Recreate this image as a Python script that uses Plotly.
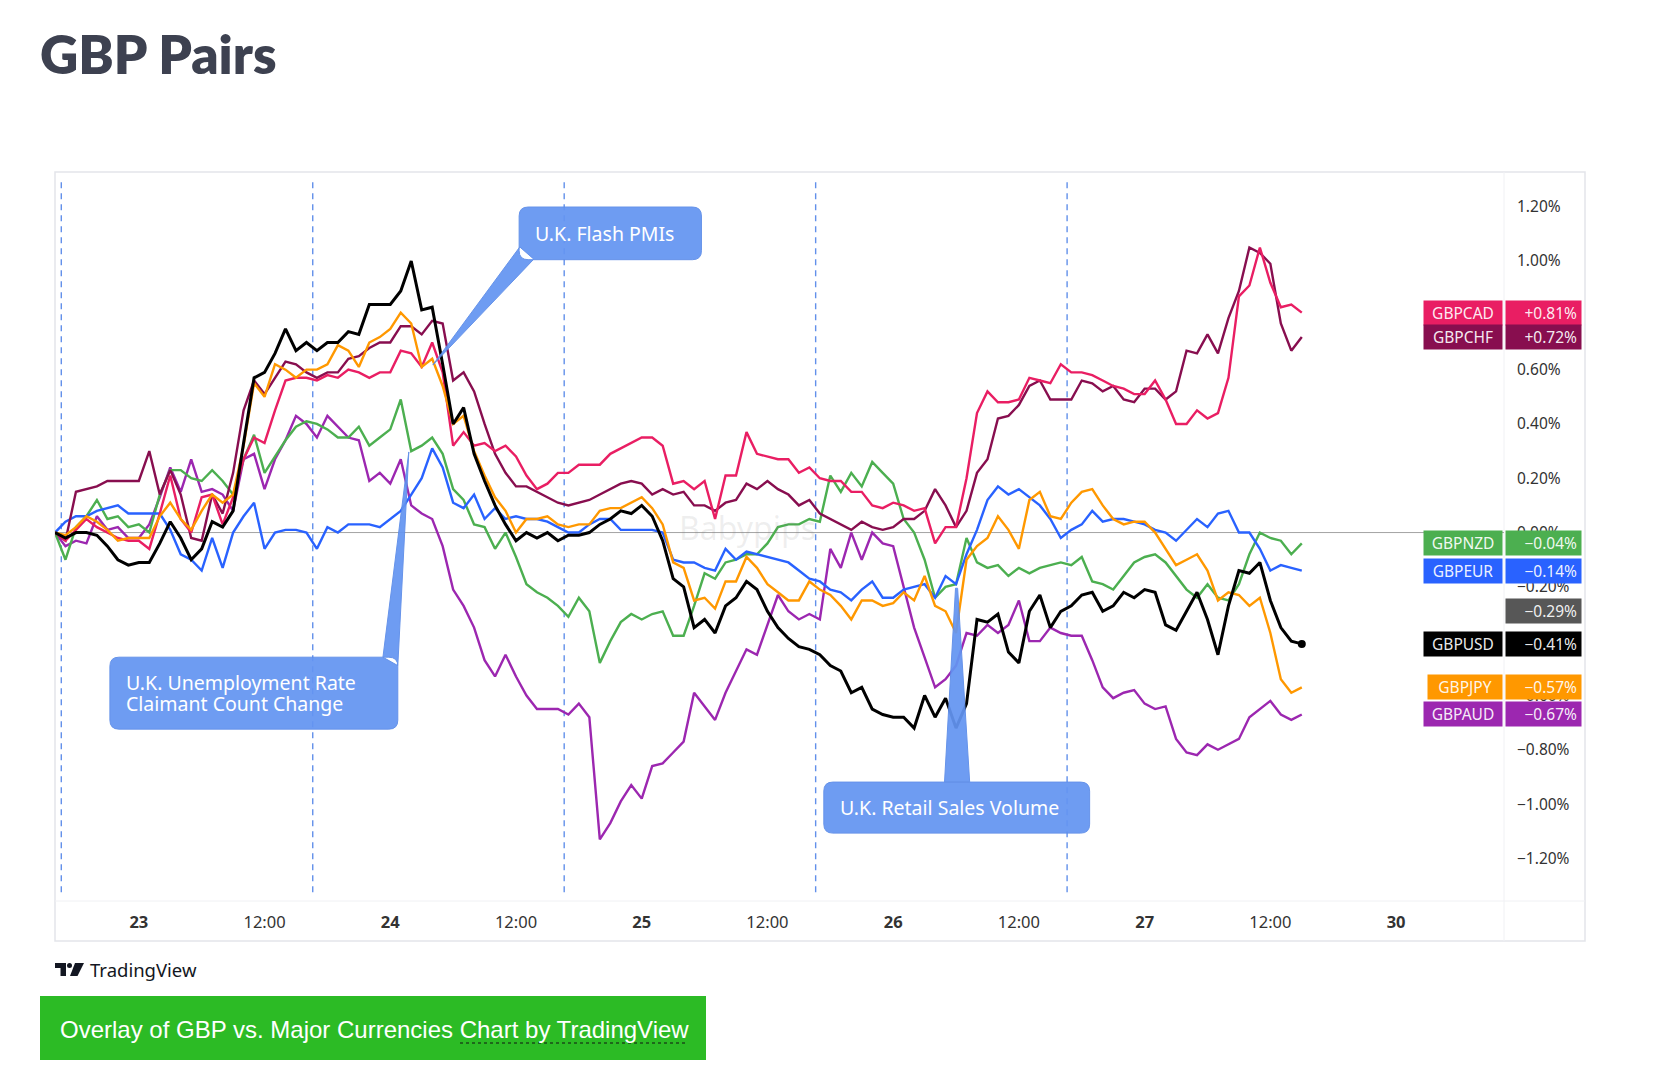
import plotly.graph_objects as go

# ---------------- data (percent change, hourly, hours from the 23rd 00:00) ----------------
hours = list(range(-8, 112))

gbpusd = [0.00, -0.02, 0.00, 0.00, -0.01, -0.05, -0.10, -0.12, -0.11, -0.11,
          -0.04, 0.04, -0.02, -0.10, -0.06, 0.04, 0.02, 0.08, 0.33, 0.57,
          0.59, 0.66, 0.75, 0.67, 0.70, 0.67, 0.70, 0.70, 0.74, 0.73,
          0.84, 0.84, 0.84, 0.89, 1.00, 0.82, 0.83, 0.62, 0.40, 0.46,
          0.29, 0.19, 0.10, 0.03, -0.03, 0.00, -0.02, 0.00, -0.03, -0.01,
          -0.01, 0.00, 0.03, 0.05, 0.08, 0.07, 0.10, 0.06, -0.03, -0.17,
          -0.20, -0.35, -0.32, -0.37, -0.27, -0.24, -0.18, -0.21, -0.29, -0.35,
          -0.39, -0.42, -0.43, -0.45, -0.49, -0.51, -0.59, -0.57, -0.65, -0.67,
          -0.68, -0.68, -0.72, -0.60, -0.68, -0.61, -0.72, -0.63, -0.32, -0.33,
          -0.30, -0.44, -0.48, -0.29, -0.23, -0.35, -0.29, -0.27, -0.23, -0.22,
          -0.29, -0.27, -0.22, -0.24, -0.21, -0.22, -0.34, -0.36, -0.29, -0.22,
          -0.32, -0.45, -0.27, -0.14, -0.15, -0.11, -0.25, -0.35, -0.40, -0.41]

gbpcad = [0.00, -0.03, 0.01, 0.05, 0.02, 0.00, -0.02, -0.03, -0.03, -0.06,
          0.07, 0.21, 0.05, 0.00, 0.13, 0.14, 0.03, 0.13, 0.27, 0.35,
          0.33, 0.45, 0.56, 0.57, 0.57, 0.56, 0.58, 0.57, 0.60, 0.59,
          0.57, 0.59, 0.59, 0.67, 0.66, 0.61, 0.70, 0.59, 0.32, 0.37,
          0.32, 0.33, 0.30, 0.32, 0.28, 0.21, 0.16, 0.18, 0.22, 0.22,
          0.25, 0.25, 0.25, 0.29, 0.31, 0.33, 0.35, 0.35, 0.32, 0.18,
          0.19, 0.16, 0.19, 0.05, 0.21, 0.21, 0.37, 0.29, 0.28, 0.27,
          0.27, 0.22, 0.24, 0.20, 0.19, 0.19, 0.15, 0.15, 0.10, 0.09,
          0.11, 0.10, 0.08, 0.09, -0.04, 0.02, 0.02, 0.20, 0.44, 0.52,
          0.48, 0.48, 0.49, 0.57, 0.56, 0.55, 0.62, 0.59, 0.59, 0.58,
          0.56, 0.54, 0.53, 0.51, 0.51, 0.56, 0.49, 0.40, 0.40, 0.45,
          0.42, 0.44, 0.57, 0.87, 0.91, 1.05, 0.92, 0.83, 0.84, 0.81]

gbpchf = [0.00, -0.03, 0.15, 0.16, 0.17, 0.19, 0.19, 0.19, 0.19, 0.30,
          0.14, 0.23, 0.14, -0.02, -0.03, 0.14, 0.07, 0.22, 0.45, 0.56,
          0.51, 0.57, 0.63, 0.62, 0.59, 0.57, 0.59, 0.59, 0.64, 0.65,
          0.68, 0.70, 0.70, 0.76, 0.76, 0.73, 0.78, 0.77, 0.56, 0.59,
          0.52, 0.40, 0.29, 0.22, 0.17, 0.17, 0.15, 0.13, 0.11, 0.10,
          0.11, 0.12, 0.14, 0.16, 0.18, 0.19, 0.18, 0.14, 0.16, 0.14,
          0.15, 0.10, 0.10, 0.08, 0.11, 0.12, 0.18, 0.16, 0.19, 0.16,
          0.14, 0.10, 0.12, 0.07, 0.05, 0.03, 0.01, 0.04, 0.02, 0.01,
          0.02, 0.05, 0.05, 0.08, 0.16, 0.10, 0.02, 0.08, 0.22, 0.27,
          0.42, 0.43, 0.47, 0.54, 0.56, 0.49, 0.49, 0.49, 0.56, 0.55,
          0.52, 0.54, 0.49, 0.48, 0.53, 0.53, 0.49, 0.52, 0.67, 0.66,
          0.73, 0.66, 0.79, 0.89, 1.05, 1.03, 0.99, 0.77, 0.67, 0.72]

gbpjpy = [0.00, -0.01, 0.02, 0.06, 0.04, 0.01, -0.03, -0.02, -0.02, -0.02,
          0.06, 0.11, 0.05, 0.01, 0.08, 0.14, 0.11, 0.14, 0.32, 0.55,
          0.50, 0.62, 0.60, 0.57, 0.60, 0.60, 0.62, 0.69, 0.67, 0.61,
          0.70, 0.72, 0.75, 0.81, 0.77, 0.61, 0.64, 0.54, 0.40, 0.43,
          0.30, 0.21, 0.13, 0.08, 0.00, 0.05, 0.05, 0.06, 0.03, 0.02,
          0.03, 0.03, 0.08, 0.09, 0.09, 0.11, 0.13, 0.09, 0.03, -0.11,
          -0.13, -0.25, -0.24, -0.28, -0.18, -0.18, -0.09, -0.13, -0.19, -0.22,
          -0.25, -0.25, -0.18, -0.21, -0.23, -0.27, -0.32, -0.25, -0.25, -0.27,
          -0.26, -0.22, -0.25, -0.16, -0.27, -0.29, -0.37, -0.10, -0.05, -0.02,
          0.06, 0.01, -0.06, 0.12, 0.15, 0.06, 0.05, 0.11, 0.15, 0.16,
          0.10, 0.05, 0.03, 0.04, 0.04, 0.00, -0.06, -0.12, -0.10, -0.08,
          -0.14, -0.25, -0.22, -0.23, -0.27, -0.24, -0.37, -0.54, -0.59, -0.57]

gbpnzd = [0.00, -0.10, 0.02, 0.06, 0.12, 0.05, 0.06, 0.02, 0.03, 0.00,
          0.14, 0.23, 0.23, 0.20, 0.19, 0.23, 0.19, 0.14, 0.27, 0.36,
          0.22, 0.28, 0.34, 0.39, 0.41, 0.40, 0.38, 0.35, 0.35, 0.39,
          0.32, 0.35, 0.38, 0.49, 0.30, 0.32, 0.35, 0.29, 0.16, 0.12,
          0.03, 0.02, -0.06, 0.00, -0.09, -0.19, -0.22, -0.24, -0.27, -0.31,
          -0.24, -0.29, -0.48, -0.40, -0.33, -0.30, -0.32, -0.30, -0.29, -0.38,
          -0.38, -0.27, -0.15, -0.17, -0.11, -0.10, -0.08, -0.08, -0.04, 0.02,
          0.03, 0.03, 0.05, 0.04, 0.21, 0.15, 0.22, 0.17, 0.26, 0.22,
          0.18, 0.05, 0.00, -0.10, -0.24, -0.20, -0.19, -0.02, -0.11, -0.13,
          -0.12, -0.16, -0.13, -0.15, -0.13, -0.12, -0.11, -0.12, -0.09, -0.18,
          -0.19, -0.21, -0.16, -0.11, -0.09, -0.08, -0.11, -0.16, -0.21, -0.24,
          -0.19, -0.24, -0.25, -0.19, -0.08, 0.00, -0.02, -0.03, -0.08, -0.04]

gbpeur = [0.00, 0.04, 0.06, 0.06, 0.08, 0.09, 0.10, 0.07, 0.07, 0.07,
          0.07, 0.01, -0.08, -0.10, -0.14, -0.02, -0.13, 0.00, 0.06, 0.11,
          -0.06, 0.00, 0.01, 0.01, 0.00, -0.06, 0.02, 0.00, 0.03, 0.03,
          0.03, 0.02, 0.05, 0.08, 0.14, 0.20, 0.31, 0.24, 0.11, 0.09,
          0.14, 0.05, 0.09, 0.05, 0.06, 0.05, 0.05, 0.04, 0.02, 0.00,
          0.00, 0.03, 0.05, 0.05, 0.01, 0.01, 0.01, 0.01, 0.00, -0.10,
          -0.11, -0.11, -0.13, -0.14, -0.06, -0.10, -0.07, -0.08, -0.09, -0.10,
          -0.11, -0.14, -0.17, -0.18, -0.21, -0.22, -0.25, -0.21, -0.18, -0.24,
          -0.24, -0.21, -0.20, -0.19, -0.24, -0.16, -0.19, -0.08, 0.01, 0.12,
          0.17, 0.14, 0.16, 0.13, 0.10, 0.05, -0.02, 0.01, 0.03, 0.08,
          0.04, 0.05, 0.05, 0.04, 0.03, 0.01, 0.00, -0.03, 0.01, 0.05,
          0.02, 0.07, 0.08, 0.00, 0.00, -0.06, -0.14, -0.12, -0.13, -0.14]

gbpaud = [0.00, -0.05, -0.03, -0.04, 0.06, 0.01, 0.02, -0.02, -0.02, 0.03,
          0.13, 0.24, 0.15, 0.27, 0.15, 0.16, 0.14, 0.08, 0.27, 0.29,
          0.16, 0.27, 0.34, 0.43, 0.40, 0.35, 0.43, 0.39, 0.35, 0.34,
          0.19, 0.22, 0.18, 0.27, 0.10, 0.07, 0.05, -0.05, -0.21, -0.27,
          -0.35, -0.47, -0.53, -0.45, -0.53, -0.60, -0.65, -0.65, -0.65, -0.67,
          -0.63, -0.68, -1.13, -1.07, -0.99, -0.93, -0.98, -0.86, -0.85, -0.81,
          -0.77, -0.59, -0.64, -0.69, -0.59, -0.51, -0.43, -0.45, -0.34, -0.23,
          -0.29, -0.32, -0.30, -0.32, -0.06, -0.13, 0.00, -0.10, 0.00, -0.04,
          -0.05, -0.20, -0.35, -0.46, -0.57, -0.54, -0.49, -0.37, -0.38, -0.34,
          -0.37, -0.34, -0.25, -0.40, -0.40, -0.35, -0.37, -0.38, -0.38, -0.47,
          -0.57, -0.61, -0.59, -0.58, -0.63, -0.65, -0.64, -0.76, -0.81, -0.82,
          -0.78, -0.80, -0.78, -0.76, -0.68, -0.65, -0.62, -0.67, -0.69, -0.67]

pair_names = ["GBPAUD", "GBPNZD", "GBPEUR", "GBPCHF", "GBPCAD", "GBPJPY", "GBPUSD"]
pair_values = [gbpaud, gbpnzd, gbpeur, gbpchf, gbpcad, gbpjpy, gbpusd]

extra_tag_value = -0.29
session_hours = [-7.4, 16.6, 40.6, 64.6, 88.6]
xtick_vals = [0, 12, 24, 36, 48, 60, 72, 84, 96, 108, 120]
xtick_text = ["23", "12:00", "24", "12:00", "25", "12:00", "26", "12:00", "27", "12:00", "30"]
ytick_vals = [1.2, 1.0, 0.6, 0.4, 0.2, 0.0, -0.2, -0.6, -0.8, -1.0, -1.2]

callouts = [
    {"lines": ["U.K. Flash PMIs"], "box": (36.3, 53.7, 1.005, 1.199),
     "tail": [(36.36, 1.052), (28.06, 0.617), (37.7, 1.007)]},
    {"lines": ["U.K. Unemployment Rate", "Claimant Count Change"], "box": (-2.76, 24.72, -0.724, -0.459),
     "tail": [(23.3, -0.459), (25.77, 0.297), (24.72, -0.49)]},
    {"lines": ["U.K. Retail Sales Volume"], "box": (65.38, 90.75, -1.107, -0.919),
     "tail": [(76.9, -0.919), (77.95, -0.205), (78.15, -0.205), (79.3, -0.919)]},
]

# ---------------- styling ----------------
colors = {"GBPAUD": "#9c27b0", "GBPNZD": "#4caf50", "GBPEUR": "#2962ff", "GBPCHF": "#880e4f",
          "GBPCAD": "#e91e63", "GBPJPY": "#ff9800", "GBPUSD": "#000000"}
FONT = "Noto Sans"
W, H = 1662, 1089
PL, PR, PT, PB = 55, 1504, 172, 901
X_RANGE = [-8.0, 130.3]
Y_RANGE = [-1.357, 1.328]
PX_PER_H = (PR - PL) / (X_RANGE[1] - X_RANGE[0])
PX_PER_PCT = (PB - PT) / (Y_RANGE[1] - Y_RANGE[0])


def pxx(x):
    return (x - PL) / (PR - PL)


def pxy(y):
    return (PB - y) / (PB - PT)


def fmt_pct(v, sign=False):
    s = f"{abs(v):.2f}%"
    if v < 0:
        return "\u2212" + s
    return ("+" + s) if sign else s


def rbox(x0, x1, y0, y1, r=9):
    rx, ry = r / PX_PER_H, r / PX_PER_PCT
    return (f"M{x0+rx},{y1} L{x1-rx},{y1} Q{x1},{y1} {x1},{y1-ry} L{x1},{y0+ry} "
            f"Q{x1},{y0} {x1-rx},{y0} L{x0+rx},{y0} Q{x0},{y0} {x0},{y0+ry} "
            f"L{x0},{y1-ry} Q{x0},{y1} {x0+rx},{y1} Z")


fig = go.Figure()

for name, vals in zip(pair_names, pair_values):
    fig.add_trace(go.Scatter(x=hours, y=vals, mode="lines", name=name,
                             line=dict(color=colors[name], width=3 if name == "GBPUSD" else 2.4),
                             hoverinfo="skip"))

fig.add_trace(go.Scatter(x=[hours[-1]], y=[gbpusd[-1]], mode="markers",
                         marker=dict(color="#000000", size=8), hoverinfo="skip"))

shapes = []
# outer chart frame and separators
shapes.append(dict(type="rect", xref="paper", yref="paper", x0=0, x1=pxx(1585), y0=pxy(941), y1=1,
                   line=dict(color="#e3e5ea", width=1.5), layer="below"))
shapes.append(dict(type="line", xref="paper", yref="paper", x0=1, x1=1, y0=pxy(941), y1=1,
                   line=dict(color="#f0f1f4", width=1), layer="below"))
shapes.append(dict(type="line", xref="paper", yref="paper", x0=0, x1=pxx(1585), y0=0, y1=0,
                   line=dict(color="#f0f1f4", width=1), layer="below"))
# zero line
shapes.append(dict(type="line", xref="paper", yref="y", x0=0, x1=1, y0=0, y1=0,
                   line=dict(color="#a3a3a3", width=1), layer="below"))
# session dashed lines
for sh in session_hours:
    shapes.append(dict(type="line", xref="x", yref="paper", x0=sh, x1=sh, y0=0.012, y1=0.99,
                       line=dict(color="#6290ea", width=1.4, dash="6px,5px"), layer="below"))
# callouts
for c in callouts:
    x0, x1, y0, y1 = c["box"]
    path = rbox(x0, x1, y0, y1)
    pts = c["tail"]
    path += " M" + " L".join(f"{px},{py}" for px, py in pts) + " Z"
    shapes.append(dict(type="path", xref="x", yref="y", path=path,
                       fillcolor="#6495f2", opacity=0.93, line=dict(color="#5a8be8", width=1),
                       layer="above"))
# TradingView logo (simple geometric mark)
shapes.append(dict(type="rect", xref="paper", yref="paper", x0=pxx(55), x1=pxx(66), y0=pxy(968), y1=pxy(963),
                   fillcolor="#131722", line=dict(width=0)))
shapes.append(dict(type="rect", xref="paper", yref="paper", x0=pxx(60.5), x1=pxx(66), y0=pxy(976), y1=pxy(963),
                   fillcolor="#131722", line=dict(width=0)))
shapes.append(dict(type="circle", xref="paper", yref="paper", x0=pxx(67), x1=pxx(72), y0=pxy(968), y1=pxy(963),
                   fillcolor="#131722", line=dict(width=0)))
shapes.append(dict(type="path", xref="paper", yref="paper",
                   path=(f"M{pxx(75)},{pxy(963)} L{pxx(84)},{pxy(963)} L{pxx(77.5)},{pxy(976)} "
                         f"L{pxx(70)},{pxy(976)} Z"),
                   fillcolor="#131722", line=dict(width=0)))
# green banner + dotted underline
shapes.append(dict(type="rect", xref="paper", yref="paper", x0=pxx(40), x1=pxx(706),
                   y0=pxy(1060), y1=pxy(996), fillcolor="#2cbb25", line=dict(width=0)))
shapes.append(dict(type="line", xref="paper", yref="paper", x0=pxx(460), x1=pxx(688),
                   y0=pxy(1043), y1=pxy(1043), line=dict(color="rgba(20,40,20,0.75)", width=1.3, dash="dot")))

annotations = []
annotations.append(dict(text="GBP Pairs", xref="paper", yref="paper", x=pxx(38), y=pxy(53),
                        xanchor="left", yanchor="middle", showarrow=False,
                        font=dict(family="Lato", size=53, color="#3d4150", weight=800)))
annotations.append(dict(text="Babypips", xref="paper", yref="y", x=pxx(747), y=0.02,
                        xanchor="center", yanchor="middle", showarrow=False,
                        font=dict(family=FONT, size=32, color="rgba(120,120,120,0.13)")))
LINE_GAP_PCT = 21.5 / PX_PER_PCT
for c in callouts:
    x0, x1, y0, y1 = c["box"]
    n = len(c["lines"])
    yc = (y0 + y1) / 2
    for i, t in enumerate(c["lines"]):
        annotations.append(dict(text=t, xref="x", yref="y", x=x0 + 14 / PX_PER_H,
                                y=yc + ((n - 1) / 2 - i) * LINE_GAP_PCT,
                                xanchor="left", yanchor="middle", align="left", showarrow=False,
                                font=dict(family=FONT, size=19.5, color="#ffffff")))

# price tags
tag_names = ["GBPCAD", "GBPCHF", "GBPNZD", "GBPEUR", "GBPUSD", "GBPJPY", "GBPAUD"]
series_by_name = dict(zip(pair_names, pair_values))
TAG_FONT = dict(family=FONT, size=15.5, color="rgba(255,255,255,0.93)")
for nm in tag_names:
    v = series_by_name[nm][-1]
    annotations.append(dict(text=nm, xref="paper", yref="y", x=1, y=v, xanchor="right", yanchor="middle",
                            xshift=-1.5, showarrow=False, bgcolor=colors[nm], width=74 if nm == "GBPJPY" else 78,
                            height=24, borderpad=0, align="center", font=TAG_FONT))
    annotations.append(dict(text=fmt_pct(v, sign=True) + " ", xref="paper", yref="y", x=1, y=v, xanchor="left",
                            yanchor="middle", xshift=1, showarrow=False, bgcolor=colors[nm], width=75,
                            height=24, borderpad=0, align="right", font=TAG_FONT))
annotations.append(dict(text=fmt_pct(extra_tag_value) + " ", xref="paper", yref="y", x=1, y=extra_tag_value,
                        xanchor="left", yanchor="middle", xshift=1, showarrow=False, bgcolor="#575757",
                        width=75, height=24, borderpad=0, align="right", font=TAG_FONT))

# TradingView text & banner text
annotations.append(dict(text="TradingView", xref="paper", yref="paper", x=pxx(88), y=pxy(970), xanchor="left",
                        yanchor="middle", showarrow=False, font=dict(family=FONT, size=18.5, color="#131722")))
annotations.append(dict(text="Overlay of GBP vs. Major Currencies Chart by TradingView", xref="paper",
                        yref="paper", x=pxx(58), y=pxy(1029), xanchor="left", yanchor="middle",
                        showarrow=False, font=dict(family="Liberation Sans", size=24, color="#ffffff")))

fig.update_layout(
    width=W, height=H, autosize=False,
    margin=dict(l=PL, r=W - PR, t=PT, b=H - PB, pad=0),
    paper_bgcolor="#ffffff", plot_bgcolor="#ffffff",
    showlegend=False, shapes=shapes, annotations=annotations,
    font=dict(family=FONT, color="#333333"),
    xaxis=dict(range=X_RANGE, tickvals=xtick_vals,
               ticktext=[f"<b>{t}</b>" if ":" not in t else t for t in xtick_text],
               showgrid=False, zeroline=False, showline=False, ticks="", ticklabelstandoff=9,
               tickfont=dict(family=FONT, size=16.5, color="#333333")),
    yaxis=dict(range=Y_RANGE, side="right", tickvals=ytick_vals, ticktext=[fmt_pct(v) for v in ytick_vals],
               showgrid=False, zeroline=False, showline=False, ticks="", ticklabelstandoff=12,
               tickfont=dict(family=FONT, size=15.5, color="#333333")),
)

fig.write_html("out.html", config={"displayModeBar": False},
               post_script="document.body.style.margin='0px';document.body.style.overflow='hidden';")
